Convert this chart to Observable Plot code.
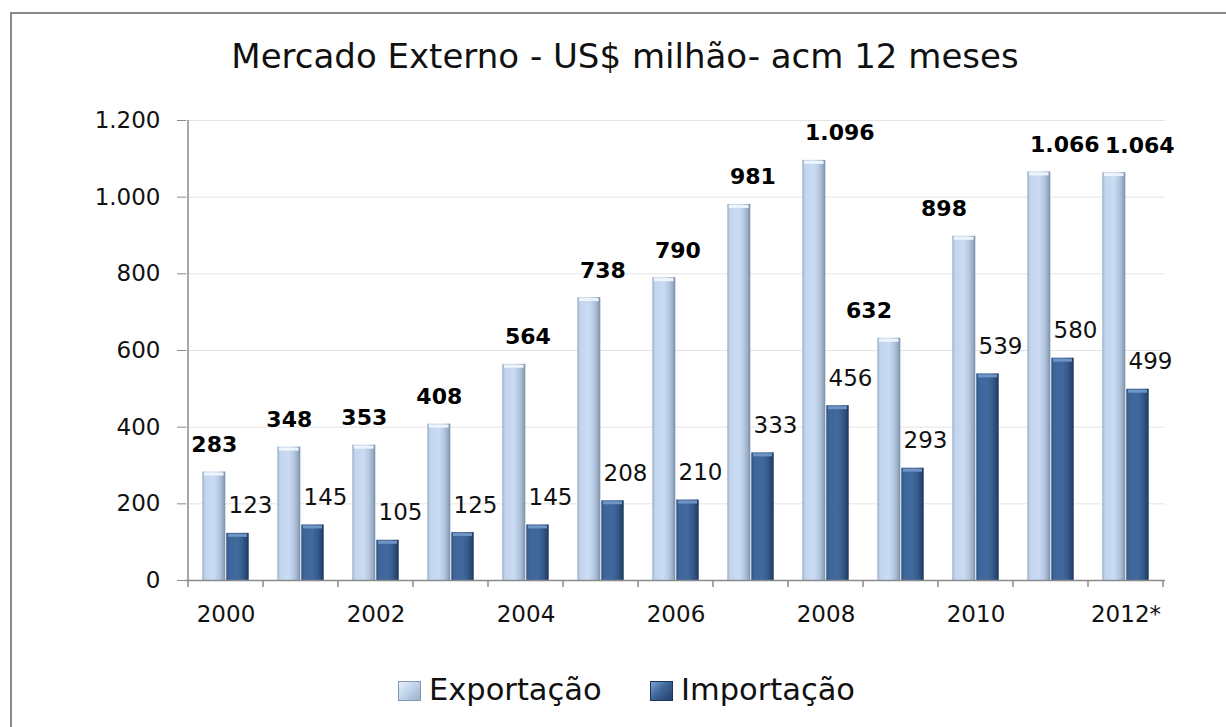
<!DOCTYPE html>
<html>
<head>
<meta charset="utf-8">
<script src="https://cdn.jsdelivr.net/npm/d3@7"></script>
<script src="https://cdn.jsdelivr.net/npm/@observablehq/plot@0.6"></script>
<style>
  html, body { margin: 0; padding: 0; background: #fff; }
  #wrap { position: relative; width: 1226px; height: 727px; overflow: hidden; font-family: "DejaVu Sans", Verdana, sans-serif; }
  #frame { position: absolute; left: 10px; top: 12px; width: 1300px; height: 800px; border-left: 2px solid #8a8a8a; border-top: 2px solid #8a8a8a; }
  #title { position: absolute; left: 25px; width: 1200px; top: 39px; text-align: center; font-size: 34px; line-height: 34px; color: #111; white-space: nowrap; }
  #chart { position: absolute; left: 0; top: 0; }
  .item { position: absolute; top: 675px; font-size: 30.5px; line-height: 30px; color: #111; white-space: nowrap; }
  .sw { display: inline-block; width: 23px; height: 20px; vertical-align: -1px; margin-right: 8px; box-sizing: border-box; }
  .sw.exp { background: linear-gradient(135deg, #e8f0fa 0%, #c3d6ee 45%, #9cb0ca 100%); border: 1px solid #8497b0; }
  .sw.imp { background: linear-gradient(135deg, #7fa2d0 0%, #3f679b 45%, #233f68 100%); border: 1px solid #1d3558; }
</style>
</head>
<body>
<svg width="0" height="0" style="position:absolute">
  <defs>
    <linearGradient id="expGrad" x1="0" x2="1" y1="0" y2="0">
      <stop offset="0%" stop-color="#9aaec8"/>
      <stop offset="12%" stop-color="#c2d5ed"/>
      <stop offset="50%" stop-color="#c9dcf3"/>
      <stop offset="72%" stop-color="#b6c9e1"/>
      <stop offset="88%" stop-color="#9aaec7"/>
      <stop offset="100%" stop-color="#7a8da7"/>
    </linearGradient>
    <linearGradient id="impGrad" x1="0" x2="1" y1="0" y2="0">
      <stop offset="0%" stop-color="#2d4e7d"/>
      <stop offset="12%" stop-color="#3e669a"/>
      <stop offset="50%" stop-color="#42699d"/>
      <stop offset="72%" stop-color="#365b8c"/>
      <stop offset="88%" stop-color="#2a4a76"/>
      <stop offset="100%" stop-color="#1c3457"/>
    </linearGradient>
  </defs>
</svg>
<div id="wrap">
  <div id="frame"></div>
  <div id="title">Mercado Externo - US$ milhão- acm 12 meses</div>
  <div id="chart"></div>
  <span class="item" style="left:398px"><span class="sw exp"></span>Exportação</span>
  <span class="item" style="left:650px"><span class="sw imp"></span>Importação</span>
</div>
<script>
const years = ["2000","2001","2002","2003","2004","2005","2006","2007","2008","2009","2010","2011","2012*"];
const exportacao = [283, 348, 353, 408, 564, 738, 790, 981, 1096, 632, 898, 1066, 1064];
const importacao = [123, 145, 105, 125, 145, 208, 210, 333, 456, 293, 539, 580, 499];
const yTicks = [0, 200, 400, 600, 800, 1000, 1200];
const xLabelYears = years.filter((d, i) => i % 2 === 0);
// label groups (how the export labels sit over their bars in the reference)
const centeredYears = ["2000", "2001", "2002", "2003"];
const leftShiftYears = ["2009", "2010"];

const data = years.map((year, i) => ({year, exp: exportacao[i], imp: importacao[i]}));
const fmt = d => d3.format(",")(d).replace(/,/g, ".");

function boundaryTicks(index, scales, values, dims) {
  const x = scales.x;
  const step = x(years[1]) - x(years[0]);
  const y0 = dims.height - dims.marginBottom;
  const xs = years.map(d => x(d)).concat([x(years[years.length - 1]) + step]);
  const g = d3.create("svg:g").attr("stroke", "#8a8a8a").attr("stroke-width", 1.5);
  g.selectAll("line").data(xs).join("line")
    .attr("x1", d => d).attr("x2", d => d)
    .attr("y1", (d, i) => i === 0 ? dims.marginTop : y0)
    .attr("y2", y0 + 7);
  return g.node();
}

const expLabel = {x: "year", y: "exp", text: d => fmt(d.exp), dy: -20, lineAnchor: "bottom", fontWeight: "bold", fontSize: 22, fill: "#000"};

const chart = Plot.plot({
  width: 1226,
  height: 660,
  marginTop: 120,
  marginBottom: 80,
  marginLeft: 186,
  marginRight: 61,
  style: {fontFamily: "DejaVu Sans, Verdana, sans-serif", fontSize: "23px", color: "#111", background: "transparent"},
  x: {type: "band", domain: years, padding: 0},
  y: {domain: [0, 1200]},
  marks: [
    Plot.gridY(yTicks.filter(d => d > 0), {stroke: "#e4e4e4", strokeOpacity: 1}),
    Plot.barY(data, {x: "year", y: "exp", fill: "url(#expGrad)", insetLeft: 14.3, insetRight: 37.7}),
    Plot.barY(data, {x: "year", y: "imp", fill: "url(#impGrad)", insetLeft: 38.3, insetRight: 14.3}),
    Plot.tickY(data, {x: "year", y: "exp", stroke: "#eef4fb", strokeWidth: 3, insetLeft: 16, insetRight: 39.5, dy: 2}),
    Plot.tickY(data, {x: "year", y: "imp", stroke: "#6f95c6", strokeWidth: 3, insetLeft: 40, insetRight: 16, dy: 2}),
    Plot.ruleY([0], {stroke: "#8a8a8a", strokeWidth: 1.5}),
    boundaryTicks,
    Plot.axisY({ticks: yTicks, tickFormat: fmt, tickSize: 9, tickPadding: 17, stroke: "#8a8a8a", fill: "#111", fontSize: 23, label: null}),
    Plot.axisX({ticks: xLabelYears, tickSize: 0, tickPadding: 25, fill: "#111", fontSize: 23, label: null}),
    Plot.text(data.filter(d => centeredYears.includes(d.year)), {...expLabel, dx: -11.7}),
    Plot.text(data.filter(d => leftShiftYears.includes(d.year)), {...expLabel, dx: -32}),
    Plot.text(data.filter(d => !centeredYears.includes(d.year) && !leftShiftYears.includes(d.year)), {...expLabel, textAnchor: "start", dx: -21}),
    Plot.text(data, {x: "year", y: "imp", text: d => fmt(d.imp), dx: 2.5, dy: -20, lineAnchor: "bottom", textAnchor: "start", fontSize: 23, fill: "#111"})
  ]
});
document.getElementById("chart").appendChild(chart);
</script>
</body>
</html>
